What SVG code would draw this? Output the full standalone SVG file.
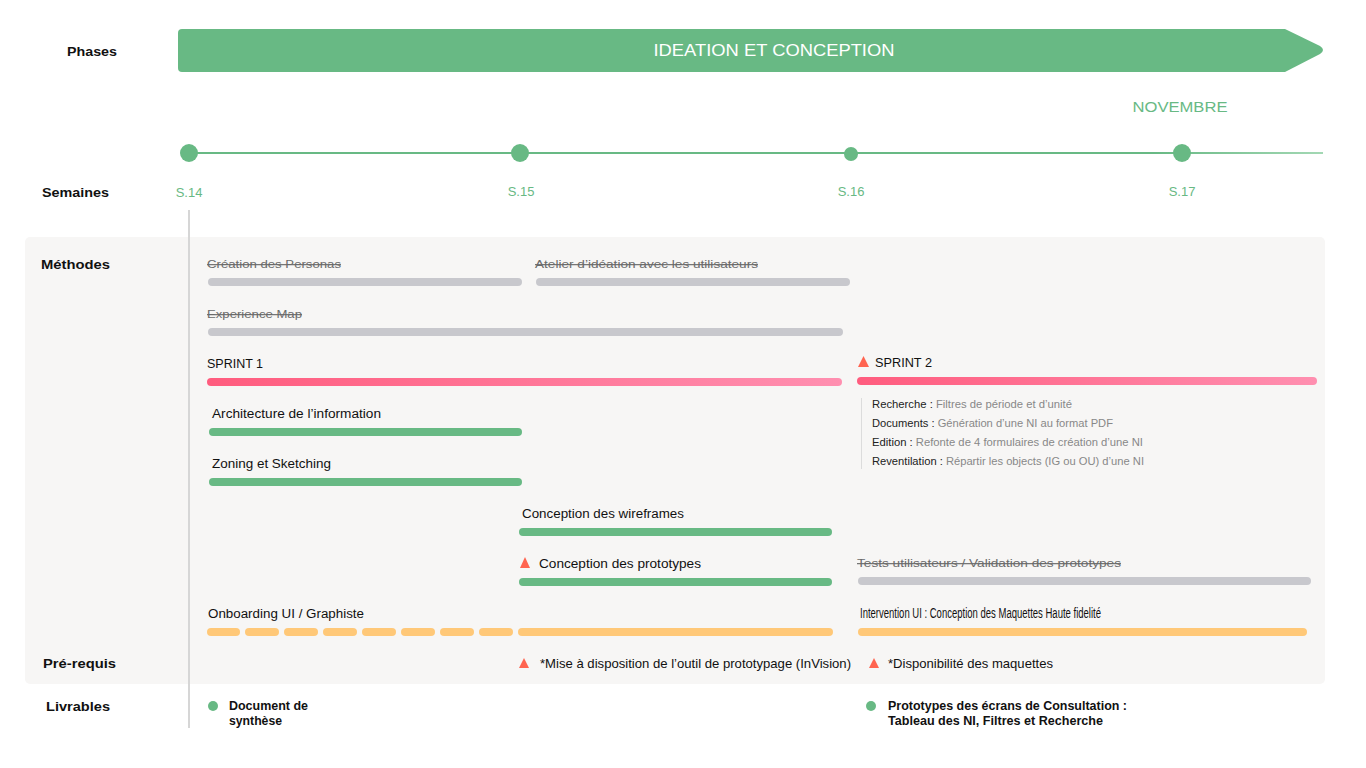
<svg xmlns="http://www.w3.org/2000/svg" width="1366" height="768" viewBox="0 0 1366 768">
<defs>
<linearGradient id="pink" x1="0" y1="0" x2="1" y2="0">
<stop offset="0" stop-color="#ff5c7e"/><stop offset="1" stop-color="#ff8fb0"/>
</linearGradient>
<linearGradient id="tl" x1="0" y1="0" x2="1" y2="0">
<stop offset="0.85" stop-color="#68b984"/><stop offset="1" stop-color="#a3d8b4"/>
</linearGradient>
<style>
text{font-family:"Liberation Sans",Arial,sans-serif;}
.lbl{font-size:13.5px;font-weight:bold;fill:#111;}
.t{font-size:12px;fill:#111;}
.c{font-size:13px;fill:#111;}
.s{font-size:11.5px;fill:#6a6a6a;text-decoration:line-through;}
.wk{font-size:13px;fill:#68b984;}
.d{font-size:10.5px;fill:#888;}
.db{fill:#222;}
.g{fill:#68b984;}
.gr{fill:#c8c8cd;}
.o{fill:#ffc878;}
.tri{fill:#ff6450;}
</style>
</defs>
<rect width="1366" height="768" fill="#ffffff"/>

<g id="labels">
<text class="lbl" x="67" y="56" textLength="50" lengthAdjust="spacingAndGlyphs">Phases</text>
<text class="lbl" x="42" y="197" textLength="67" lengthAdjust="spacingAndGlyphs">Semaines</text>
</g>

<g id="phase">
<path d="M182,29 H1285 L1320,46 Q1326,50 1320,54 L1285,72 H182 Q178,72 178,68 V33 Q178,29 182,29 Z" fill="#68b984"/>
<text x="774" y="56" text-anchor="middle" font-size="17" fill="#ffffff" textLength="241" lengthAdjust="spacingAndGlyphs">IDEATION ET CONCEPTION</text>
</g>

<g id="timeline">
<text x="1180" y="112" text-anchor="middle" font-size="15" fill="#68b984" textLength="95" lengthAdjust="spacingAndGlyphs">NOVEMBRE</text>
<rect x="189" y="152" width="1134" height="2" fill="url(#tl)"/>
<circle cx="189" cy="153" r="9" class="g"/>
<circle cx="520" cy="153" r="9" class="g"/>
<circle cx="851" cy="154" r="7" class="g"/>
<circle cx="1182" cy="153" r="9" class="g"/>
<text class="wk" x="189" y="197" text-anchor="middle">S.14</text>
<text class="wk" x="521" y="196" text-anchor="middle">S.15</text>
<text class="wk" x="851" y="196" text-anchor="middle">S.16</text>
<text class="wk" x="1182" y="196" text-anchor="middle">S.17</text>
</g>

<rect id="panel" x="25" y="237" width="1300" height="447" rx="5" fill="#f7f6f5"/>
<rect id="vline" x="188" y="210" width="2" height="518" fill="#d6d6d6"/>

<g id="row-labels">
<text class="lbl" x="41" y="269" textLength="69" lengthAdjust="spacingAndGlyphs">Méthodes</text>
<text class="lbl" x="43" y="668" textLength="73" lengthAdjust="spacingAndGlyphs">Pré-requis</text>
<text class="lbl" x="46" y="711" textLength="64" lengthAdjust="spacingAndGlyphs">Livrables</text>
</g>

<g id="personas">
<text class="s" x="207" y="268" textLength="134" lengthAdjust="spacingAndGlyphs">Création des Personas</text>
<rect class="gr" x="208" y="278" width="314" height="8" rx="4"/>
</g>
<g id="atelier">
<text class="s" x="535" y="268" textLength="223" lengthAdjust="spacingAndGlyphs">Atelier d’idéation avec les utilisateurs</text>
<rect class="gr" x="536" y="278" width="314" height="8" rx="4"/>
</g>
<g id="expmap">
<text class="s" x="207" y="318" textLength="95" lengthAdjust="spacingAndGlyphs">Experience Map</text>
<rect class="gr" x="208" y="328" width="635" height="8" rx="4"/>
</g>
<g id="sprint1">
<text class="t" x="207" y="368" textLength="56" lengthAdjust="spacingAndGlyphs">SPRINT 1</text>
<rect x="207" y="378" width="635" height="8" rx="4" fill="url(#pink)"/>
</g>
<g id="sprint2">
<path class="tri" d="M858,367 L863.5,356 L869,367 Z"/>
<text class="c" x="875" y="367" textLength="57" lengthAdjust="spacingAndGlyphs">SPRINT 2</text>
<rect x="857" y="377" width="460" height="8" rx="4" fill="url(#pink)"/>
<rect x="861" y="398" width="1" height="71" fill="#dcdcdc"/>
<text class="d" x="872" y="408" textLength="200" lengthAdjust="spacingAndGlyphs"><tspan class="db">Recherche :</tspan> Filtres de période et d’unité</text>
<text class="d" x="872" y="427" textLength="241" lengthAdjust="spacingAndGlyphs"><tspan class="db">Documents :</tspan> Génération d’une NI au format PDF</text>
<text class="d" x="872" y="446" textLength="271" lengthAdjust="spacingAndGlyphs"><tspan class="db">Edition :</tspan> Refonte de 4 formulaires de création d’une NI</text>
<text class="d" x="872" y="465" textLength="272" lengthAdjust="spacingAndGlyphs"><tspan class="db">Reventilation :</tspan> Répartir les objects (IG ou OU) d’une NI</text>
</g>
<g id="archi">
<text class="t" x="212" y="418" textLength="169" lengthAdjust="spacingAndGlyphs">Architecture de l’information</text>
<rect class="g" x="209" y="428" width="313" height="8" rx="4"/>
</g>
<g id="zoning">
<text class="t" x="212" y="468" textLength="119" lengthAdjust="spacingAndGlyphs">Zoning et Sketching</text>
<rect class="g" x="209" y="478" width="313" height="8" rx="4"/>
</g>
<g id="wireframes">
<text class="t" x="522" y="518" textLength="162" lengthAdjust="spacingAndGlyphs">Conception des wireframes</text>
<rect class="g" x="519" y="528" width="313" height="8" rx="4"/>
</g>
<g id="prototypes">
<path class="tri" d="M520,568 L525,557 L530,568 Z"/>
<text class="c" x="539" y="568" textLength="162" lengthAdjust="spacingAndGlyphs">Conception des prototypes</text>
<rect class="g" x="519" y="578" width="313" height="8" rx="4"/>
</g>
<g id="tests">
<text class="s" x="857" y="567" font-size="12" textLength="264" lengthAdjust="spacingAndGlyphs">Tests utilisateurs / Validation des prototypes</text>
<rect class="gr" x="858" y="577" width="453" height="8" rx="4"/>
</g>
<g id="onboarding">
<text class="t" x="208" y="618" textLength="156" lengthAdjust="spacingAndGlyphs">Onboarding UI / Graphiste</text>
<rect class="o" x="207" y="628" width="33" height="8" rx="4"/>
<rect class="o" x="245" y="628" width="34" height="8" rx="4"/>
<rect class="o" x="284" y="628" width="34" height="8" rx="4"/>
<rect class="o" x="323" y="628" width="34" height="8" rx="4"/>
<rect class="o" x="362" y="628" width="34" height="8" rx="4"/>
<rect class="o" x="401" y="628" width="34" height="8" rx="4"/>
<rect class="o" x="440" y="628" width="34" height="8" rx="4"/>
<rect class="o" x="479" y="628" width="34" height="8" rx="4"/>
<rect class="o" x="518" y="628" width="315" height="8" rx="4"/>
</g>
<g id="intervention">
<text x="860" y="618" font-size="14" fill="#111" textLength="241" lengthAdjust="spacingAndGlyphs">Intervention UI : Conception des Maquettes Haute fidelité</text>
<rect class="o" x="858" y="628" width="449" height="8" rx="4"/>
</g>
<g id="prereq1">
<path class="tri" d="M519,668 L524,658 L529,668 Z"/>
<text class="c" x="540" y="668" textLength="311" lengthAdjust="spacingAndGlyphs">*Mise à disposition de l’outil de prototypage (InVision)</text>
</g>
<g id="prereq2">
<path class="tri" d="M869,668 L874,658 L879,668 Z"/>
<text class="c" x="888" y="668" textLength="165" lengthAdjust="spacingAndGlyphs">*Disponibilité des maquettes</text>
</g>
<g id="livrable1">
<circle class="g" cx="213" cy="706" r="5"/>
<text class="t" x="229" y="710" font-weight="bold" textLength="79" lengthAdjust="spacingAndGlyphs">Document de</text>
<text class="t" x="229" y="725" font-weight="bold" textLength="53" lengthAdjust="spacingAndGlyphs">synthèse</text>
</g>
<g id="livrable2">
<circle class="g" cx="871" cy="706" r="5"/>
<text class="t" x="888" y="710" font-weight="bold" textLength="239" lengthAdjust="spacingAndGlyphs">Prototypes des écrans de Consultation :</text>
<text class="t" x="888" y="725" font-weight="bold" textLength="215" lengthAdjust="spacingAndGlyphs">Tableau des NI, Filtres et Recherche</text>
</g>
<g id="connectors"></g>
</svg>
